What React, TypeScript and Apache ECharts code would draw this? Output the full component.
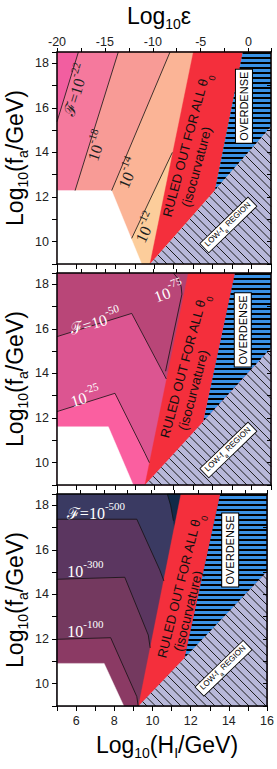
import React, { useEffect, useRef } from "react";
import * as echarts from "echarts";

type Pt = [number, number];

// ---------------- axes ----------------
const H_MIN = 5;
const H_MAX = 16;
const F_MIN = 9;
const F_MAX = 18.5;
const EPS_MIN = -20;
const EPS_MAX = 2.34;
const H_LABELED = [6, 8, 10, 12, 14, 16];
const F_LABELED = [10, 12, 14, 16, 18];
const EPS_LABELED = [-20, -15, -10, -5, 0];

// ---------------- panel 1 (F ~ 1e-22 .. 1e-12) ----------------
const P1_F22: Pt[] = [[5, 15.38], [6.1, 18.5]];
const P1_F18: Pt[] = [[5.93, 12.29], [8.15, 18.5]];
const P1_F14: Pt[] = [[7.81, 12.29], [10.81, 18.5]];
const P1_F12: Pt[] = [[8.84, 10.15], [10.93, 14.0]];
const P1_WHITE: Pt[] = [[5, 12.29], [7.81, 12.29], [9.35, 9], [5, 9]];
const P1_RED: Pt[] = [[9.78, 9], [12.01, 18.5], [14.55, 18.5], [13.12, 12.3]];
const P1_OVER: Pt[] = [[13.12, 12.3], [14.55, 18.5], [16, 18.5], [16, 15.15]];
const P1_LOWF: Pt[] = [[9.78, 9], [16, 15.15], [16, 9]];

// ---------------- panel 2 (F ~ 1e-25 .. 1e-75) ----------------
const P2_F50: Pt[] = [[5, 15.65], [8.84, 16.69], [10.38, 14.15], [10.62, 13.75]];
const P2_F25: Pt[] = [[5, 12.29], [7.98, 13.11], [9.52, 10.42], [9.75, 10.0]];
const P2_F75: Pt[] = [[10.98, 18.5], [11.22, 18.25], [11.38, 17.9], [11.42, 17.55], [10.58, 14.1]];
const P2_WHITE: Pt[] = [[5, 11.61], [7.64, 11.61], [8.92, 9], [5, 9]];
const P2_RED: Pt[] = [[9.52, 9], [11.75, 18.5], [14.15, 18.5], [12.52, 11.84]];
const P2_OVER: Pt[] = [[12.52, 11.84], [14.15, 18.5], [16, 18.5], [16, 15.13]];
const P2_LOWF: Pt[] = [[9.52, 9], [16, 15.13], [16, 9]];

// ---------------- panel 3 (F ~ 1e-100 .. 1e-500) ----------------
const P3_F500: Pt[] = [[5, 17.37], [9.18, 17.37], [10.38, 15.1], [10.6, 14.6]];
const P3_F300: Pt[] = [[5, 14.68], [8.55, 14.77], [9.78, 12.18], [9.88, 11.6]];
const P3_F100: Pt[] = [[5, 11.99], [7.81, 12.06], [9.18, 9.42], [9.25, 9]];
const P3_EDGE: Pt[] = [[10.78, 18.5], [10.95, 18.0], [11.1, 17.3]];
const P3_WHITE: Pt[] = [[5, 10.91], [7.47, 10.91], [8.5, 9], [5, 9]];
const P3_RED: Pt[] = [[9.27, 9], [11.49, 18.5], [13.55, 18.5], [11.67, 11.1]];
const P3_OVER: Pt[] = [[11.67, 11.1], [13.55, 18.5], [16, 18.5], [16, 15.02]];
const P3_LOWF: Pt[] = [[9.27, 9], [16, 15.02], [16, 9]];

// ---------------- layout / style ----------------
const SANS = '"Liberation Sans", Arial, Helvetica, sans-serif';
const SERIF = '"Liberation Serif", "Times New Roman", serif';
const GRID_LEFT = 57;
const GRID_W = 214;
const GRID_H = 212;
const PANEL_TOPS = [52, 273, 494];
const RED = "#f42f3c";
const BLUE = "#3a92e6";
const LAV = "#b8b8da";

const FULL: Pt[] = [[H_MIN, F_MIN], [H_MIN, F_MAX], [H_MAX, F_MAX], [H_MAX, F_MIN]];
const lowerRight = (line: Pt[]): Pt[] => [...line, [H_MAX, F_MAX], [H_MAX, F_MIN], [line[0][0], F_MIN]];

type Label = { at: Pt; rot: number; main: string; sup: string; color: string };

const PANELS = [
  {
    bg: "#f25ea0",
    layers: [
      { pts: lowerRight(P1_F22), color: "#f5799d" },
      { pts: lowerRight(P1_F18), color: "#f89b96" },
      { pts: lowerRight(P1_F14), color: "#fbb496" },
      { pts: lowerRight(P1_F12), color: "#fccd9b" },
      { pts: P1_WHITE, color: "#ffffff" },
    ],
    lines: [P1_F22, P1_F18, P1_F14, P1_F12],
    red: P1_RED, over: P1_OVER, lowf: P1_LOWF,
    labels: [
      { at: [5.88, 16.83], rot: 73, main: "ℱ=10", sup: "-22", color: "#222" },
      { at: [6.95, 14.33], rot: 72, main: "10", sup: "-18", color: "#222" },
      { at: [8.58, 13.11], rot: 67, main: "10", sup: "-14", color: "#222" },
      { at: [9.49, 10.67], rot: 64, main: "10", sup: "-12", color: "#222" },
    ] as Label[],
    ruled: { main: [11.7, 14.3] as Pt, iso: [12.18, 13.35] as Pt, rot: 75 },
    overBox: [14.61, 16.07] as Pt,
    lowBox: [13.81, 10.75] as Pt,
  },
  {
    bg: "#b94678",
    layers: [
      { pts: [...P2_F75, [11.6, 14.1], [12.6, 18.5]] as Pt[], color: "#b04273" },
      { pts: lowerRight(P2_F50), color: "#dc5591" },
      { pts: lowerRight(P2_F25), color: "#fa5fa0" },
      { pts: P2_WHITE, color: "#ffffff" },
    ],
    lines: [P2_F50, P2_F25, P2_F75],
    red: P2_RED, over: P2_OVER, lowf: P2_LOWF,
    labels: [
      { at: [6.95, 16.39], rot: 17, main: "ℱ=10", sup: "-50", color: "#fff" },
      { at: [6.44, 13.03], rot: 17, main: "10", sup: "-25", color: "#fff" },
      { at: [10.72, 17.74], rot: 20, main: "10", sup: "-75", color: "#fff" },
    ] as Label[],
    ruled: { main: [11.58, 14.3] as Pt, iso: [12.01, 13.25] as Pt, rot: 75 },
    overBox: [14.55, 15.95] as Pt,
    lowBox: [13.81, 10.57] as Pt,
  },
  {
    bg: "#3a3a62",
    layers: [
      { pts: [...P3_EDGE, [11.3, 16.0], [12.5, 18.5]] as Pt[], color: "#102a48" },
      { pts: lowerRight(P3_F500), color: "#5b3660" },
      { pts: lowerRight(P3_F300), color: "#74395f" },
      { pts: lowerRight(P3_F100), color: "#8b3a64" },
      { pts: P3_WHITE, color: "#ffffff" },
    ],
    lines: [P3_F500, P3_F300, P3_F100, P3_EDGE],
    red: P3_RED, over: P3_OVER, lowf: P3_LOWF,
    labels: [
      { at: [7.04, 17.75], rot: 0, main: "ℱ=10", sup: "-500", color: "#fff" },
      { at: [6.49, 15.13], rot: 0, main: "10", sup: "-300", color: "#fff" },
      { at: [6.49, 12.44], rot: 0, main: "10", sup: "-100", color: "#fff" },
    ] as Label[],
    ruled: { main: [11.49, 14.35] as Pt, iso: [11.87, 13.25] as Pt, rot: 76 },
    overBox: [14.07, 15.99] as Pt,
    lowBox: [13.72, 10.69] as Pt,
  },
];

function clipLine(poly: number[][], ox: number, oy: number, dx: number, dy: number) {
  const ts: number[] = [];
  for (let i = 0; i < poly.length; i++) {
    const [x1, y1] = poly[i];
    const [x2, y2] = poly[(i + 1) % poly.length];
    const ex = x2 - x1, ey = y2 - y1;
    const den = dx * ey - dy * ex;
    if (Math.abs(den) < 1e-9) continue;
    const t = ((x1 - ox) * ey - (y1 - oy) * ex) / den;
    const s = ((x1 - ox) * dy - (y1 - oy) * dx) / den;
    if (s >= -1e-9 && s <= 1 + 1e-9) ts.push(t);
  }
  if (ts.length < 2) return null;
  const t0 = Math.min(...ts), t1 = Math.max(...ts);
  if (t1 - t0 < 0.5) return null;
  return { x1: ox + t0 * dx, y1: oy + t0 * dy, x2: ox + t1 * dx, y2: oy + t1 * dy };
}

const deg = (d: number) => (d * Math.PI) / 180;

function renderPanel(p: any, api: any) {
  const c = (pt: Pt) => api.coord(pt);
  const ch: any[] = [];
  const poly = (pts: Pt[], fill: string) => ({
    type: "polygon",
    shape: { points: pts.map(c) },
    style: { fill, stroke: fill, lineWidth: 0.4 },
  });
  ch.push(poly(FULL, p.bg));
  p.layers.forEach((l: any) => ch.push(poly(l.pts, l.color)));
  ch.push(poly(p.red, RED));

  // overdense: blue with black horizontal stripes
  const overPx = p.over.map(c);
  ch.push({ type: "polygon", shape: { points: overPx }, style: { fill: BLUE } });
  const oys = overPx.map((q: number[]) => q[1]);
  for (let y = Math.min(...oys) + 1; y < Math.max(...oys); y += 5) {
    const seg = clipLine(overPx, 0, y, 1, 0);
    if (seg) ch.push({ type: "line", shape: seg, style: { stroke: "#000", lineWidth: 2 } });
  }

  // low-fa region: lavender with diagonal hatch
  const lowPx = p.lowf.map(c);
  ch.push({ type: "polygon", shape: { points: lowPx }, style: { fill: LAV } });
  const lxs = lowPx.map((q: number[]) => q[0]);
  const lys = lowPx.map((q: number[]) => q[1]);
  const minY = Math.min(...lys), maxY = Math.max(...lys);
  for (let x0 = Math.min(...lxs) - (maxY - minY); x0 < Math.max(...lxs); x0 += 8.5) {
    const seg = clipLine(lowPx, x0, minY, 1, 1);
    if (seg) ch.push({ type: "line", shape: seg, style: { stroke: "#1a1a1a", lineWidth: 1 } });
  }

  // contour lines
  p.lines.forEach((l: Pt[]) =>
    ch.push({ type: "polyline", shape: { points: l.map(c) }, style: { stroke: "#111", lineWidth: 0.8, fill: null } })
  );

  // contour labels
  p.labels.forEach((lb: Label) => {
    const [x, y] = c(lb.at);
    ch.push({
      type: "text", x, y, rotation: deg(lb.rot),
      style: {
        text: `{m|${lb.main}}{s|${lb.sup}}`,
        fill: lb.color, align: "center", verticalAlign: "middle",
        rich: {
          m: { fontSize: 16, fontFamily: SERIF, lineHeight: 21, verticalAlign: "bottom", fill: lb.color },
          s: { fontSize: 11, fontFamily: SERIF, lineHeight: 11, verticalAlign: "top", fill: lb.color },
        },
      },
    });
  });

  // ruled-out text
  {
    const [x, y] = c(p.ruled.main);
    ch.push({
      type: "text", x, y, rotation: deg(p.ruled.rot),
      style: {
        text: "{m|RULED OUT FOR ALL θ}{s|0}", fill: "#111", align: "center", verticalAlign: "middle",
        rich: {
          m: { fontSize: 13, fontFamily: SANS, lineHeight: 16, verticalAlign: "top", fill: "#111" },
          s: { fontSize: 9, fontFamily: SANS, lineHeight: 9, padding: [10, 0, 0, 0], verticalAlign: "top", fill: "#111" },
        },
      },
    });
    const [x2, y2] = c(p.ruled.iso);
    ch.push({
      type: "text", x: x2, y: y2, rotation: deg(p.ruled.rot),
      style: { text: "(isocurvature)", fill: "#111", fontSize: 13.5, fontFamily: SANS, align: "center", verticalAlign: "middle" },
    });
  }

  // OVERDENSE box
  {
    const [x, y] = c(p.overBox);
    ch.push({
      type: "text", x, y, rotation: deg(90),
      style: {
        text: "OVERDENSE", fill: "#000", fontSize: 11, fontFamily: SANS, align: "center", verticalAlign: "middle",
        backgroundColor: "#fff", borderColor: "#000", borderWidth: 1, padding: [3, 2, 2, 2],
      },
    });
  }
  // LOW-fa REGION box
  {
    const [x, y] = c(p.lowBox);
    ch.push({
      type: "text", x, y, rotation: deg(44),
      style: {
        text: "{m|LOW-f}{s|a}{m| REGION}", fill: "#000", align: "center", verticalAlign: "middle",
        backgroundColor: "#fff", borderColor: "#000", borderWidth: 0.8, padding: [1, 3, 1, 3],
        rich: {
          m: { fontSize: 8, fontFamily: SANS, lineHeight: 10, verticalAlign: "top", fill: "#000" },
          s: { fontSize: 6, fontFamily: SANS, lineHeight: 6, padding: [5, 0, 0, 0], verticalAlign: "top", fill: "#000" },
        },
      },
    });
  }
  return { type: "group", children: ch };
}

const titleRich = {
  m: { fontSize: 23, fontFamily: SANS, lineHeight: 24, verticalAlign: "top", fill: "#000" },
  s: { fontSize: 14, fontFamily: SANS, lineHeight: 14, padding: [13, 0, 0, 0], verticalAlign: "top", fill: "#000" },
};

function buildOption(): any {
  const grid = PANEL_TOPS.map((top) => ({ left: GRID_LEFT, top, width: GRID_W, height: GRID_H, show: false }));
  const axisLine = { show: true, onZero: false, lineStyle: { color: "#000", width: 1.5 } };
  const xAxis: any[] = [];
  const yAxis: any[] = [];
  PANEL_TOPS.forEach((_, i) => {
    xAxis.push({
      type: "value", gridIndex: i, position: "bottom", min: H_MIN, max: H_MAX, interval: 1, z: 10,
      axisLine, splitLine: { show: false },
      axisTick: { show: true, inside: false, length: 5, lineStyle: { color: "#000", width: 1 } },
      axisLabel: {
        show: i === 2, margin: 8, fontSize: 12.5, color: "#222", fontFamily: SANS,
        formatter: (v: number) => (H_LABELED.includes(v) ? String(v) : ""),
      },
    });
    xAxis.push({
      type: "value", gridIndex: i, position: "top", min: EPS_MIN, max: EPS_MAX, interval: 2.5, z: 10,
      axisLine, splitLine: { show: false },
      axisTick: { show: true, inside: false, length: 4, lineStyle: { color: "#000", width: 1 } },
      axisLabel: {
        show: i === 0, margin: 4, fontSize: 12.5, color: "#222", fontFamily: SANS,
        formatter: (v: number) => (EPS_LABELED.includes(v) ? String(v) : ""),
      },
    });
    yAxis.push({
      type: "value", gridIndex: i, position: "left", min: F_MIN, max: F_MAX, interval: 1, z: 10,
      axisLine, splitLine: { show: false },
      axisTick: { show: true, inside: false, length: 5, lineStyle: { color: "#000", width: 1 } },
      axisLabel: {
        show: true, margin: 8, fontSize: 12.5, color: "#222", fontFamily: SANS,
        formatter: (v: number) => (F_LABELED.includes(v) ? String(v) : ""),
      },
    });
    yAxis.push({
      type: "value", gridIndex: i, position: "right", min: F_MIN, max: F_MAX, interval: 1, z: 10,
      axisLine, splitLine: { show: false },
      axisTick: { show: true, inside: true, length: 4, lineStyle: { color: "#000", width: 1 } },
      axisLabel: { show: false },
    });
  });

  const series = PANELS.map((p, i) => ({
    type: "custom",
    xAxisIndex: 2 * i,
    yAxisIndex: 2 * i,
    z: 1,
    silent: true,
    data: [[H_MIN, F_MIN]],
    renderItem: (_params: any, api: any) => renderPanel(p, api),
  }));

  const graphic: any[] = [
    {
      type: "text", x: 159, y: 16,
      style: { text: "{m|Log}{s|10}{m|ε}", align: "center", verticalAlign: "middle", rich: titleRich },
    },
    {
      type: "text", x: 167, y: 745,
      style: { text: "{m|Log}{s|10}{m|(H}{s|I}{m|/GeV)}", align: "center", verticalAlign: "middle", rich: titleRich },
    },
    ...PANEL_TOPS.map((top) => ({
      type: "text", x: 15, y: top + GRID_H / 2, rotation: deg(90),
      style: { text: "{m|Log}{s|10}{m|(f}{s|a}{m|/GeV)}", align: "center", verticalAlign: "middle", rich: titleRich },
    })),
  ];

  return { animation: false, grid, xAxis, yAxis, series, graphic };
}

export default function App() {
  const ref = useRef<HTMLDivElement>(null);
  useEffect(() => {
    document.body.style.margin = "0";
    document.body.style.overflow = "hidden";
    const chart = echarts.init(ref.current!, null, { renderer: "svg" });
    chart.setOption(buildOption());
    return () => chart.dispose();
  }, []);
  return <div ref={ref} style={{ width: 277, height: 769, background: "#fff" }} />;
}
